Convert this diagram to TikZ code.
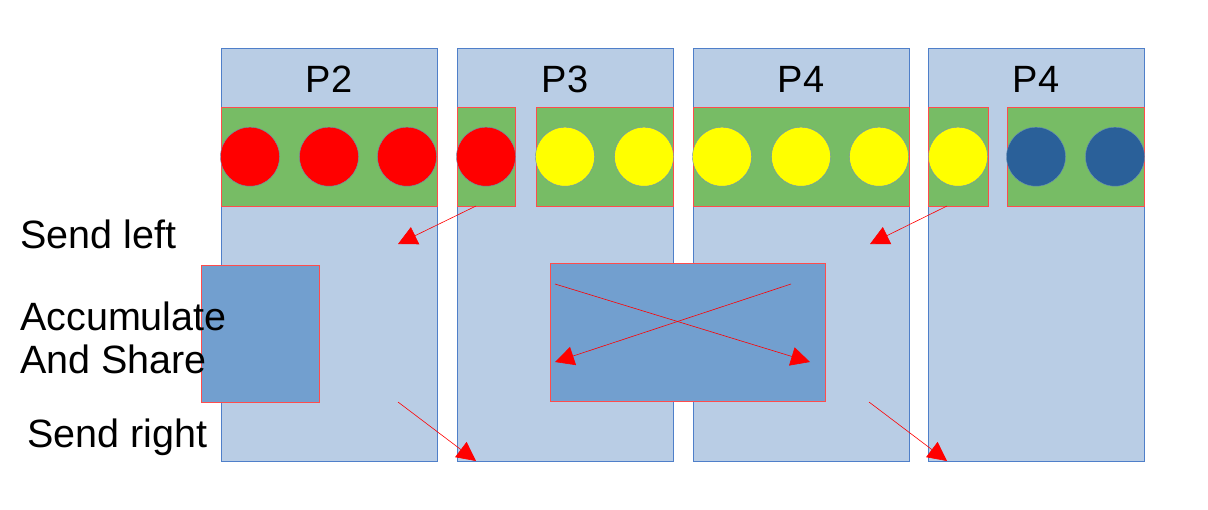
\documentclass[tikz,border=0pt]{standalone}
\usepackage{fontspec}
\setmainfont{Liberation Sans}
\usetikzlibrary{arrows.meta}
\definecolor{colblue}{HTML}{B9CDE5}
\definecolor{coledge}{HTML}{4F7FC9}
\definecolor{bandgreen}{HTML}{77BC65}
\definecolor{accblue}{HTML}{729FCF}
\definecolor{dotblue}{HTML}{2A6099}
\definecolor{dotyellow}{HTML}{FFFF00}

\begin{document}
\begin{tikzpicture}[x=1pt, y=-1pt,
            column/.style={draw=coledge, fill=colblue, line width=0.6pt,
                           minimum width=216pt, minimum height=413pt, inner sep=0pt},
            band/.style={draw=red!70, fill=bandgreen, line width=0.5pt},
            accbox/.style={draw=red!70, fill=accblue, line width=0.5pt},
            dot/.style={draw=dotblue!70, line width=0.4pt},
            title/.style={font=\fontsize{38}{44}\selectfont},
            side/.style={font=\fontsize{39.5}{43}\selectfont, anchor=base west,
                         inner sep=0pt, align=left},
            msg/.style={draw=red!80, line width=0.6pt,
                        -{Triangle[length=19pt, width=19pt]}, red}
            ]
        % columns
        \node[column] (p2) at (329,254.5) {};
        \node[column] (p3) at (565,254.5) {};
        \node[column] (p4) at (801,254.5) {};
        \node[column] (p4b) at (1036,254.5) {};

        \node[title] (t2) at (329,79) {P2};
        \node[title] (t3) at (565,79) {P3};
        \node[title] (t4) at (801,79) {P4};
        \node[title] (t4b) at (1036,79) {P4};

        % data bands
        \draw[band] (221,107) rectangle (437,206);
        \draw[band] (457,107) rectangle (515,206);
        \draw[band] (536,107) rectangle (673,206);
        \draw[band] (693,107) rectangle (909,206);
        \draw[band] (928,107) rectangle (988,206);
        \draw[band] (1007,107) rectangle (1144,206);

        \foreach \x in {250,329,407,486}
            \filldraw[dot, fill=red] (\x,156.7) circle[radius=29.5pt];
        \foreach \x in {565,644,722,801,879,958}
            \filldraw[dot, fill=dotyellow] (\x,156.7) circle[radius=29.5pt];
        \foreach \x in {1036,1115}
            \filldraw[dot, fill=dotblue] (\x,156.7) circle[radius=29.5pt];

        % accumulate boxes
        \draw[accbox] (201,265) rectangle (319,402);
        \draw[accbox] (550,263) rectangle (825,401);

        % side labels
        \node[side] (sendl) at (20,248) {Send left};
        \node[side] (accum) at (20,373) {Accumulate\\And Share};
        \node[side] (sendr) at (27,447) {Send right};

        % messages
        \path coordinate (l1s) at (476,206)  coordinate (l1e) at (398,244)
              coordinate (l2s) at (947,206)  coordinate (l2e) at (870,244)
              coordinate (r1s) at (398,402)  coordinate (r1e) at (476,461)
              coordinate (r2s) at (869,402)  coordinate (r2e) at (947,461)
              coordinate (x1s) at (555,284)  coordinate (x1e) at (810,362)
              coordinate (x2s) at (791,284)  coordinate (x2e) at (555,362);

        \draw[msg] (l1s) -- (l1e);
        \draw[msg] (l2s) -- (l2e);
        \draw[msg] (r1s) -- (r1e);
        \draw[msg] (r2s) -- (r2e);
        \draw[msg] (x1s) -- (x1e);
        \draw[msg] (x2s) -- (x2e);

        \useasboundingbox (0,0) rectangle (1208,509);
    \end{tikzpicture}
\end{document}
